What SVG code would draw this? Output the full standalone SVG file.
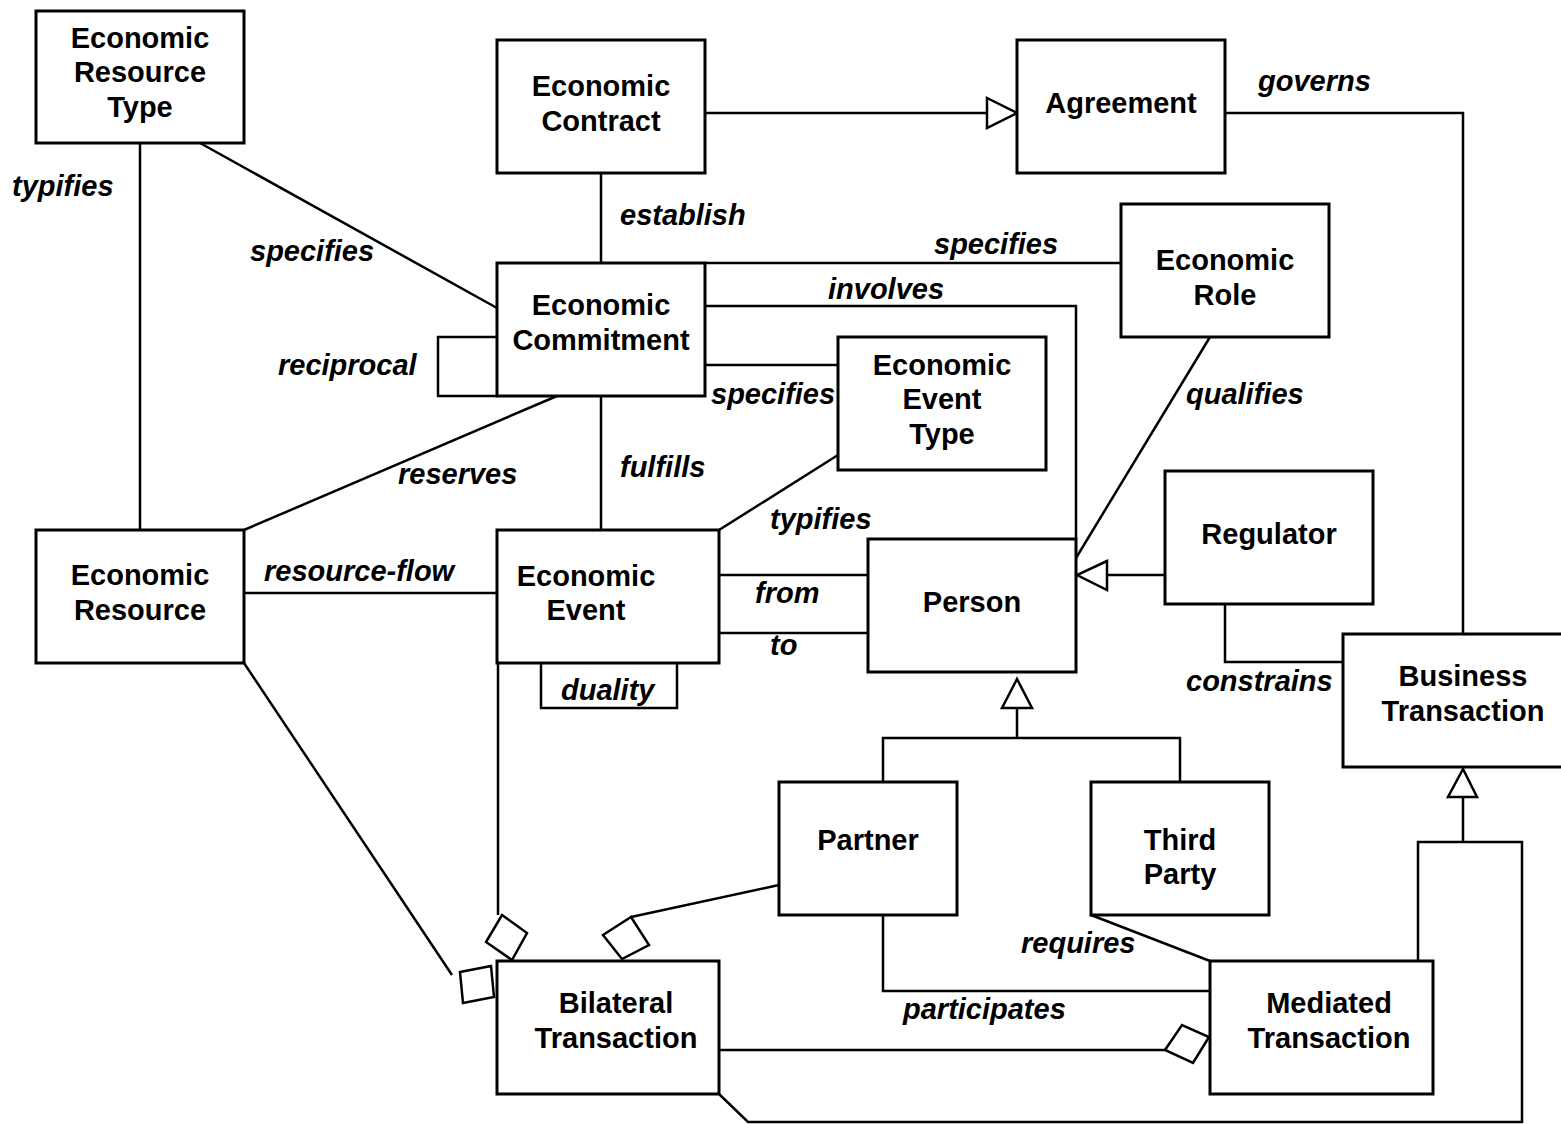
<svg xmlns="http://www.w3.org/2000/svg" width="1561" height="1124" viewBox="0 0 1561 1124">
<style>
  .box { fill: #fff; stroke: #000; stroke-width: 3; }
  .name { font-family: "Liberation Sans", Arial, sans-serif; font-weight: bold; font-size: 29px; text-anchor: middle; fill: #000; }
  .lbl { font-family: "Liberation Sans", Arial, sans-serif; font-weight: bold; font-style: italic; font-size: 29px; fill: #000; }
  .ln { fill: none; stroke: #000; stroke-width: 2.5; }
  .head { fill: #fff; stroke: #000; stroke-width: 2.5; stroke-linejoin: miter; }
</style>
<rect x="0" y="0" width="1561" height="1124" fill="#fff"/>

<g id="connectors">
  <!-- resource type -> resource -->
  <line class="ln" x1="140" y1="143" x2="140" y2="530"/>
  <text class="lbl" x="12" y="196">typifies</text>
  <!-- resource type -> commitment -->
  <line class="ln" x1="200" y1="143" x2="497" y2="308"/>
  <text class="lbl" x="250" y="261">specifies</text>
  <!-- contract generalises to agreement -->
  <line class="ln" x1="705" y1="113" x2="987" y2="113"/>
  <polygon class="head" points="987,98 1017,113 987,128"/>
  <!-- agreement governs business transaction -->
  <polyline class="ln" points="1225,113 1463,113 1463,634"/>
  <text class="lbl" x="1258" y="91">governs</text>
  <!-- contract establishes commitment -->
  <line class="ln" x1="601" y1="173" x2="601" y2="263"/>
  <text class="lbl" x="620" y="225">establish</text>
  <!-- commitment specifies role -->
  <line class="ln" x1="705" y1="263" x2="1121" y2="263"/>
  <text class="lbl" x="934" y="254">specifies</text>
  <!-- commitment involves person -->
  <polyline class="ln" points="705,306 1076,306 1076,539"/>
  <text class="lbl" x="828" y="299">involves</text>
  <!-- commitment specifies event type -->
  <line class="ln" x1="705" y1="365" x2="838" y2="365"/>
  <text class="lbl" x="711" y="404">specifies</text>
  <!-- reciprocal commitments -->
  <polyline class="ln" points="497,337 438,337 438,396 497,396"/>
  <text class="lbl" x="278" y="375">reciprocal</text>
  <!-- commitment reserves resource -->
  <line class="ln" x1="557" y1="396" x2="244" y2="530"/>
  <text class="lbl" x="398" y="484">reserves</text>
  <!-- event fulfills commitment -->
  <line class="ln" x1="601" y1="396" x2="601" y2="530"/>
  <text class="lbl" x="620" y="477">fulfills</text>
  <!-- event type typifies event -->
  <line class="ln" x1="838" y1="455" x2="719" y2="530"/>
  <text class="lbl" x="770" y="529">typifies</text>
  <!-- role qualifies person -->
  <line class="ln" x1="1210" y1="337" x2="1076" y2="558"/>
  <text class="lbl" x="1186" y="404">qualifies</text>
  <!-- regulator generalises to person -->
  <line class="ln" x1="1165" y1="575" x2="1107" y2="575"/>
  <polygon class="head" points="1107,561 1077,575 1107,590"/>
  <!-- regulator constrains business transaction -->
  <polyline class="ln" points="1225,604 1225,662 1343,662"/>
  <text class="lbl" x="1186" y="691">constrains</text>
  <!-- resource flow -->
  <line class="ln" x1="244" y1="593" x2="497" y2="593"/>
  <text class="lbl" x="264" y="581">resource-flow</text>
  <!-- event from / to person -->
  <line class="ln" x1="719" y1="575" x2="868" y2="575"/>
  <text class="lbl" x="755" y="603">from</text>
  <line class="ln" x1="719" y1="633" x2="868" y2="633"/>
  <text class="lbl" x="770" y="655">to</text>
  <!-- duality self-association -->
  <polyline class="ln" points="541,663 541,708 677,708 677,663"/>
  <text class="lbl" x="561" y="700">duality</text>
  <!-- partner / third party generalise to person -->
  <polygon class="head" points="1017,679 1002,708 1032,708"/>
  <line class="ln" x1="1017" y1="708" x2="1017" y2="738"/>
  <polyline class="ln" points="883,782 883,738 1180,738 1180,782"/>
  <!-- resource aggregated in bilateral transaction -->
  <line class="ln" x1="244" y1="663" x2="452" y2="975"/>
  <polygon class="head" points="460,972 491,966 494,997 463,1003"/>
  <!-- event aggregated in bilateral transaction -->
  <line class="ln" x1="498" y1="663" x2="498" y2="915"/>
  <polygon class="head" points="502,915 527,933 512,960 486,942"/>
  <!-- partner aggregated in bilateral transaction -->
  <line class="ln" x1="779" y1="885" x2="631" y2="917"/>
  <polygon class="head" points="631,917 649,945 622,959 603,935"/>
  <!-- bilateral aggregated in mediated transaction -->
  <line class="ln" x1="719" y1="1050" x2="1165" y2="1050"/>
  <polygon class="head" points="1165,1050 1182,1025 1209,1037 1193,1063"/>
  <!-- partner participates in mediated transaction -->
  <polyline class="ln" points="883,915 883,991 1210,991"/>
  <text class="lbl" x="903" y="1019">participates</text>
  <!-- mediated transaction requires third party -->
  <line class="ln" x1="1091" y1="915" x2="1210" y2="961"/>
  <text class="lbl" x="1021" y="953">requires</text>
  <!-- mediated and bilateral generalise to business transaction -->
  <polyline class="ln" points="1418,961 1418,842 1522,842 1522,1122 748,1122 719,1094"/>
  <line class="ln" x1="1463" y1="842" x2="1463" y2="797"/>
  <polygon class="head" points="1463,769 1448,797 1477,797"/>
</g>

<g id="economic-resource-type">
  <rect class="box" x="36" y="11" width="208" height="132"/>
  <text class="name" x="140" y="48">Economic</text>
  <text class="name" x="140" y="82">Resource</text>
  <text class="name" x="140" y="117">Type</text>
</g>
<g id="economic-contract">
  <rect class="box" x="497" y="40" width="208" height="133"/>
  <text class="name" x="601" y="96">Economic</text>
  <text class="name" x="601" y="131">Contract</text>
</g>
<g id="agreement">
  <rect class="box" x="1017" y="40" width="208" height="133"/>
  <text class="name" x="1121" y="113">Agreement</text>
</g>
<g id="economic-role">
  <rect class="box" x="1121" y="204" width="208" height="133"/>
  <text class="name" x="1225" y="270">Economic</text>
  <text class="name" x="1225" y="305">Role</text>
</g>
<g id="economic-commitment">
  <rect class="box" x="497" y="263" width="208" height="133"/>
  <text class="name" x="601" y="315">Economic</text>
  <text class="name" x="601" y="350">Commitment</text>
</g>
<g id="economic-event-type">
  <rect class="box" x="838" y="337" width="208" height="133"/>
  <text class="name" x="942" y="375">Economic</text>
  <text class="name" x="942" y="409">Event</text>
  <text class="name" x="942" y="444">Type</text>
</g>
<g id="regulator">
  <rect class="box" x="1165" y="471" width="208" height="133"/>
  <text class="name" x="1269" y="544">Regulator</text>
</g>
<g id="economic-resource">
  <rect class="box" x="36" y="530" width="208" height="133"/>
  <text class="name" x="140" y="585">Economic</text>
  <text class="name" x="140" y="620">Resource</text>
</g>
<g id="economic-event">
  <rect class="box" x="497" y="530" width="222" height="133"/>
  <text class="name" x="586" y="586">Economic</text>
  <text class="name" x="586" y="620">Event</text>
</g>
<g id="person">
  <rect class="box" x="868" y="539" width="208" height="133"/>
  <text class="name" x="972" y="612">Person</text>
</g>
<g id="business-transaction">
  <rect class="box" x="1343" y="634" width="222" height="133"/>
  <text class="name" x="1463" y="686">Business</text>
  <text class="name" x="1463" y="721">Transaction</text>
</g>
<g id="partner">
  <rect class="box" x="779" y="782" width="178" height="133"/>
  <text class="name" x="868" y="850">Partner</text>
</g>
<g id="third-party">
  <rect class="box" x="1091" y="782" width="178" height="133"/>
  <text class="name" x="1180" y="850">Third</text>
  <text class="name" x="1180" y="884">Party</text>
</g>
<g id="bilateral-transaction">
  <rect class="box" x="497" y="961" width="222" height="133"/>
  <text class="name" x="616" y="1013">Bilateral</text>
  <text class="name" x="616" y="1048">Transaction</text>
</g>
<g id="mediated-transaction">
  <rect class="box" x="1210" y="961" width="223" height="133"/>
  <text class="name" x="1329" y="1013">Mediated</text>
  <text class="name" x="1329" y="1048">Transaction</text>
</g>
</svg>
